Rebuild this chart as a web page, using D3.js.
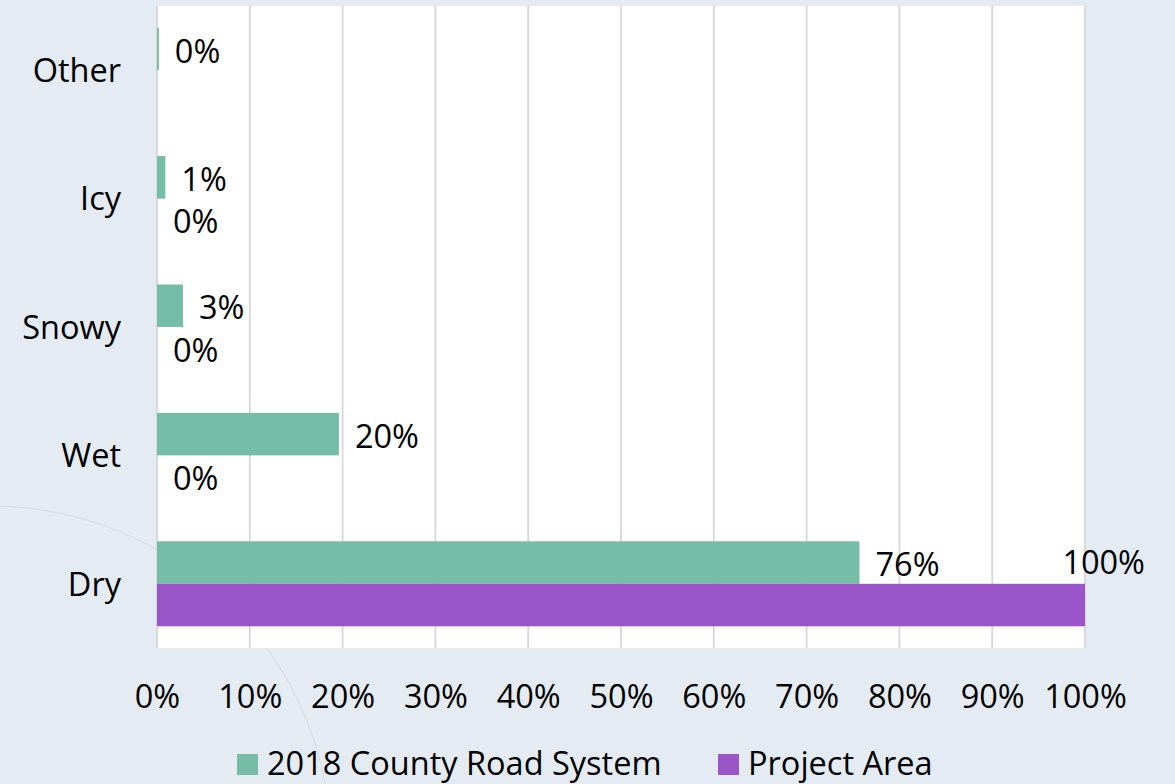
<!DOCTYPE html>
<html>
<head>
<meta charset="utf-8">
<script src="https://cdn.jsdelivr.net/npm/d3@7"></script>
<style>
  html, body { margin: 0; padding: 0; background: #e4ebf2; }
  svg { display: block; font-family: "Open Sans", sans-serif; }
</style>
</head>
<body>
<svg id="chart" width="1175" height="784"></svg>
<script>
// Road surface condition shares
const categories = ["Other", "Icy", "Snowy", "Wet", "Dry"];
const seriesNames = ["2018 County Road System", "Project Area"];
const countyValues = [0.002, 0.009, 0.028, 0.196, 0.757];
const projectValues = [null, 0, 0, 0, 1.0];
const xTickValues = [0, 0.1, 0.2, 0.3, 0.4, 0.5, 0.6, 0.7, 0.8, 0.9, 1.0];
const seriesColors = ["#76bda7", "#9a56c9"];

const W = 1175, H = 784;
const plot = { left: 157, right: 1085, top: 6, bottom: 648 };
const fontSize = 32.5;
const fmt = d3.format(".0%");

const svg = d3.select("#chart");

// decorative background arc
svg.append("circle")
  .attr("cx", -10).attr("cy", 847).attr("r", 341)
  .attr("fill", "none").attr("stroke", "#d6d9dc").attr("stroke-width", 1);

const x = d3.scaleLinear().domain([0, 1]).range([plot.left, plot.right]);
const pad = 0.338;
const y = d3.scaleBand().domain(categories)
  .range([plot.top, plot.bottom]).paddingInner(pad).paddingOuter(pad / 2);
const ySub = d3.scaleBand().domain(seriesNames).range([0, y.bandwidth()]);

// plot area
svg.append("rect")
  .attr("x", plot.left).attr("y", plot.top)
  .attr("width", plot.right - plot.left).attr("height", plot.bottom - plot.top)
  .attr("fill", "#ffffff");

// vertical gridlines
svg.append("g").selectAll("line").data(xTickValues).join("line")
  .attr("x1", d => x(d)).attr("x2", d => x(d))
  .attr("y1", plot.top).attr("y2", plot.bottom)
  .attr("stroke", "#d6d6d6").attr("stroke-width", 1.75);

// rows of data
const rows = categories.map((c, i) => ({
  cat: c,
  vals: [
    { s: seriesNames[0], v: countyValues[i], color: seriesColors[0] },
    { s: seriesNames[1], v: projectValues[i], color: seriesColors[1] }
  ]
}));

const groups = svg.append("g").selectAll("g").data(rows).join("g")
  .attr("transform", d => `translate(0,${y(d.cat)})`);

groups.selectAll("rect").data(d => d.vals.filter(e => e.v !== null)).join("rect")
  .attr("x", x(0))
  .attr("y", d => ySub(d.s))
  .attr("width", d => x(d.v) - x(0))
  .attr("height", ySub.bandwidth())
  .attr("fill", d => d.color);

// value labels
const labelOffset = 16;
groups.selectAll("text").data(d => d.vals.filter(e => e.v !== null)).join("text")
  .attr("font-size", fontSize)
  .attr("fill", "#000")
  .each(function (d) {
    const t = d3.select(this).text(fmt(d.v));
    const cy = ySub(d.s) + ySub.bandwidth() / 2;
    const end = x(d.v) + labelOffset;
    const w = this.getComputedTextLength();
    if (end + w > W - 25) {
      // no room to the right: lift the label above its bar
      t.attr("text-anchor", "end").attr("x", x(d.v) + 60)
        .attr("y", cy - ySub.bandwidth() / 2 - 23).attr("dy", "0.4em");
    } else {
      t.attr("text-anchor", "start").attr("x", end)
        .attr("y", cy).attr("dy", "0.42em");
    }
  });

// category axis labels
svg.append("g").selectAll("text").data(categories).join("text")
  .attr("x", 121)
  .attr("y", d => y(d) + y.bandwidth() / 2)
  .attr("dy", "0.36em")
  .attr("text-anchor", "end")
  .attr("font-size", fontSize)
  .text(d => d);

// value axis labels
const xAxis = d3.axisBottom(x).tickValues(xTickValues).tickFormat(fmt).tickSize(0).tickPadding(0);
const xg = svg.append("g").attr("transform", `translate(0,${plot.bottom})`).call(xAxis);
xg.select(".domain").remove();
xg.selectAll("text")
  .attr("font-size", fontSize)
  .attr("font-family", "Open Sans, sans-serif")
  .attr("fill", "#000")
  .attr("dy", null)
  .attr("y", 60);

// legend
const legendItems = [
  { name: seriesNames[0], color: seriesColors[0], x: 237 },
  { name: seriesNames[1], color: seriesColors[1], x: 718 }
];
const lg = svg.append("g").selectAll("g").data(legendItems).join("g")
  .attr("transform", d => `translate(${d.x},0)`);
lg.append("rect").attr("x", 0).attr("y", 754).attr("width", 21).attr("height", 21)
  .attr("fill", d => d.color);
lg.append("text").attr("x", 30).attr("y", 775)
  .attr("font-size", fontSize).text(d => d.name);
</script>
</body>
</html>
